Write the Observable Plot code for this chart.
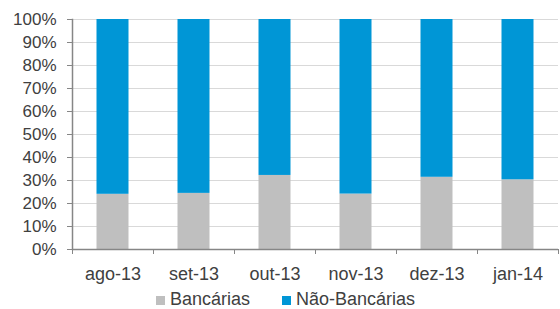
<!DOCTYPE html>
<html><head><meta charset="utf-8">
<script src="https://cdn.jsdelivr.net/npm/d3@7"></script>
<script src="https://cdn.jsdelivr.net/npm/@observablehq/plot@0.6"></script>
<style>
body{margin:0;background:#fff;font-family:"Liberation Sans",Arial,sans-serif;}
#chart svg{display:block;}
#legend{display:flex;justify-content:center;align-items:center;height:16px;line-height:16px;font-size:18px;color:#404040;padding-left:11px;}
#legend span.sw{display:inline-block;width:9px;height:9px;margin-right:5px;margin-top:3px;}
#legend .item{display:flex;align-items:center;margin:0 16px;}
</style></head>
<body><div id="chart"></div><div id="legend"></div>
<script>
const months = ["ago-13","set-13","out-13","nov-13","dez-13","jan-14"];
const series = ["Bancárias","Não-Bancárias"];
const colors = ["#BFBFBF","#0096D6"];
const bancarias = [24.0, 24.4, 32.2, 24.1, 31.4, 30.3];
const naoBancarias = [76.0, 75.6, 67.8, 75.9, 68.6, 69.7];
const yTicks = [0,10,20,30,40,50,60,70,80,90,100];

const rows = [];
months.forEach((m,i)=>rows.push({month:m, series:series[0], value:bancarias[i]}));
months.forEach((m,i)=>rows.push({month:m, series:series[1], value:naoBancarias[i]}));

const W = 560, H = 291, mL = 72, mR = 2, mT = 19, mB = 42;
const bw = (W - mL - mR) / months.length;
const textColor = "#404040", axisColor = "#868686";

const chart = Plot.plot({
  width: W, height: H,
  marginLeft: mL, marginRight: mR, marginTop: mT, marginBottom: mB,
  style: {fontFamily: '"Liberation Sans", Arial, sans-serif', fontSize: "17px", color: textColor, background: "#fff"},
  x: {domain: months, padding: 0},
  y: {domain: [0,100]},
  color: {domain: series, range: colors},
  marks: [
    Plot.ruleY(yTicks, {stroke: "#D9D9D9", strokeWidth: 1}),
    Plot.barY(rows, {x: "month", y: "value", fill: "series", insetLeft: 24.5, insetRight: 24.5}),
    Plot.ruleY([0], {stroke: axisColor, strokeWidth: 1.5}),
    Plot.frame({anchor: "left", stroke: axisColor, strokeWidth: 1.5}),
    Plot.axisY({ticks: yTicks, tickFormat: d => d + "%", tickSize: 5, tickPadding: 11, stroke: axisColor, fill: textColor, fontSize: 17, label: null}),
    Plot.axisX({tickSize: 0, tickPadding: 18, fill: textColor, fontSize: 18, label: null}),
    Plot.axisX({tickSize: 5, dx: -bw/2, tickFormat: () => "", stroke: axisColor, label: null}),
    Plot.axisX({ticks: [months[months.length-1]], tickSize: 5, dx: bw/2, tickFormat: () => "", stroke: axisColor, label: null})
  ]
});
document.getElementById("chart").append(chart);

const lg = document.getElementById("legend");
series.forEach((s,i)=>{
  const it = document.createElement("div"); it.className = "item";
  const sw = document.createElement("span"); sw.className = "sw"; sw.style.background = colors[i];
  it.append(sw, document.createTextNode(s));
  lg.append(it);
});
</script></body></html>
